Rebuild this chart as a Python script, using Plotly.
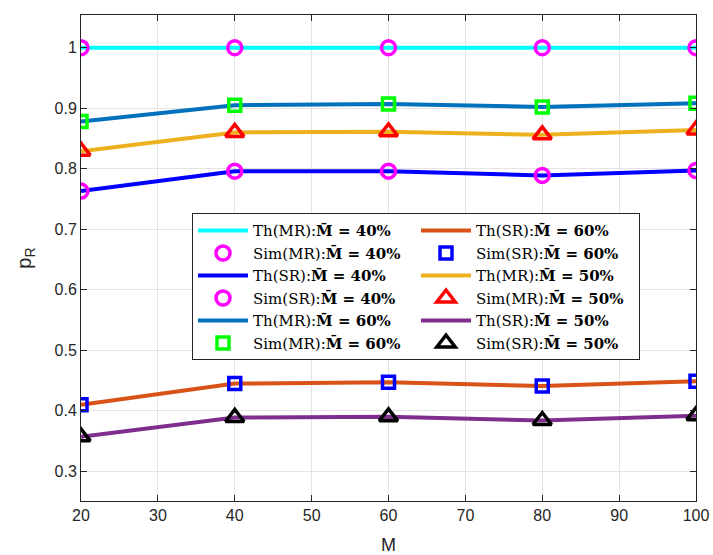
import plotly.graph_objects as go

M = [20, 40, 60, 80, 100]
th_mr_40 = [1.0, 1.0, 1.0, 1.0, 1.0]
sim_mr_40 = [1.0, 1.0, 1.0, 1.0, 1.0]
th_sr_40 = [0.763, 0.796, 0.796, 0.789, 0.797]
sim_sr_40 = [0.763, 0.796, 0.796, 0.789, 0.797]
th_mr_60 = [0.878, 0.905, 0.907, 0.902, 0.908]
sim_mr_60 = [0.878, 0.905, 0.907, 0.902, 0.908]
th_sr_60 = [0.410, 0.445, 0.447, 0.441, 0.449]
sim_sr_60 = [0.410, 0.445, 0.447, 0.441, 0.449]
th_mr_50 = [0.829, 0.860, 0.861, 0.856, 0.864]
sim_mr_50 = [0.829, 0.860, 0.861, 0.856, 0.864]
th_sr_50 = [0.357, 0.389, 0.390, 0.384, 0.392]
sim_sr_50 = [0.357, 0.389, 0.390, 0.384, 0.392]

y_ticks = [0.3, 0.4, 0.5, 0.6, 0.7, 0.8, 0.9, 1.0]
y_tick_text = ["0.3", "0.4", "0.5", "0.6", "0.7", "0.8", "0.9", "1"]
x_ticks = [20, 30, 40, 50, 60, 70, 80, 90, 100]


def lab(kind, pct):
    return f"{kind}:<b>M\u0304 = {pct}%</b>"


fig = go.Figure()

LW = 4
# (name, y, style, color, legendrank)
series = [
    (lab("Th(MR)", 40), th_mr_40, "line", "#00FFFF", 1),
    (lab("Sim(MR)", 40), sim_mr_40, "circle-open", "#FF00FF", 3),
    (lab("Th(SR)", 40), th_sr_40, "line", "#0000FF", 5),
    (lab("Sim(SR)", 40), sim_sr_40, "circle-open", "#FF00FF", 7),
    (lab("Th(MR)", 60), th_mr_60, "line", "#0072BD", 9),
    (lab("Sim(MR)", 60), sim_mr_60, "square-open", "#00FF00", 11),
    (lab("Th(SR)", 60), th_sr_60, "line", "#D95319", 2),
    (lab("Sim(SR)", 60), sim_sr_60, "square-open", "#0000FF", 4),
    (lab("Th(MR)", 50), th_mr_50, "line", "#EDB120", 6),
    (lab("Sim(MR)", 50), sim_mr_50, "triangle-up-open", "#FF0000", 8),
    (lab("Th(SR)", 50), th_sr_50, "line", "#7E2F8E", 10),
    (lab("Sim(SR)", 50), sim_sr_50, "triangle-up-open", "#000000", 12),
]

for name, y, style, color, rank in series:
    if style == "line":
        fig.add_trace(go.Scatter(x=M, y=y, mode="lines", name=name,
                                 line=dict(color=color, width=LW),
                                 legendrank=rank))
for name, y, style, color, rank in series:
    if style != "line":
        size = {"circle-open": 14, "square-open": 12, "triangle-up-open": 16}[style]
        fig.add_trace(go.Scatter(x=M, y=y, mode="markers", name=name,
                                 marker=dict(symbol=style, size=size, color=color,
                                             line=dict(color=color, width=3.5)),
                                 legendrank=rank))

axis_common = dict(
    showline=True, linecolor="#262626", linewidth=1, mirror="ticks",
    ticks="inside", ticklen=6, tickcolor="#262626",
    showgrid=True, gridcolor="#E3E3E3", gridwidth=1, zeroline=False,
    tickfont=dict(family="Liberation Sans, Arial, sans-serif", size=16, color="#262626"),
    automargin=False,
)

fig.update_xaxes(range=[20, 100], tickvals=x_ticks,
                 title=dict(text="M", font=dict(family="Liberation Sans, Arial", size=18, color="#262626"), standoff=16),
                 **axis_common)
fig.update_yaxes(range=[0.251, 1.054], tickvals=y_ticks, ticktext=y_tick_text,
                 title=dict(text="p<sub>R</sub>", font=dict(family="Liberation Sans, Arial", size=20, color="#262626"), standoff=17),
                 **axis_common)

fig.update_layout(
    width=713, height=555,
    margin=dict(l=81, r=17, t=15, b=54),
    plot_bgcolor="white", paper_bgcolor="white",
    legend=dict(
        orientation="h", x=0.1805, y=0.592, xanchor="left", yanchor="top",
        entrywidth=158, entrywidthmode="pixels",
        font=dict(family="DejaVu Serif, Liberation Serif, serif", size=15, color="#000000"),
        bgcolor="white", bordercolor="#262626", borderwidth=1,
        itemwidth=50, tracegroupgap=0,
    ),
)

fig.write_html(
    "out.html",
    config={"displayModeBar": False},
    post_script="document.body.style.margin='0';document.body.style.overflow='hidden';",
)
